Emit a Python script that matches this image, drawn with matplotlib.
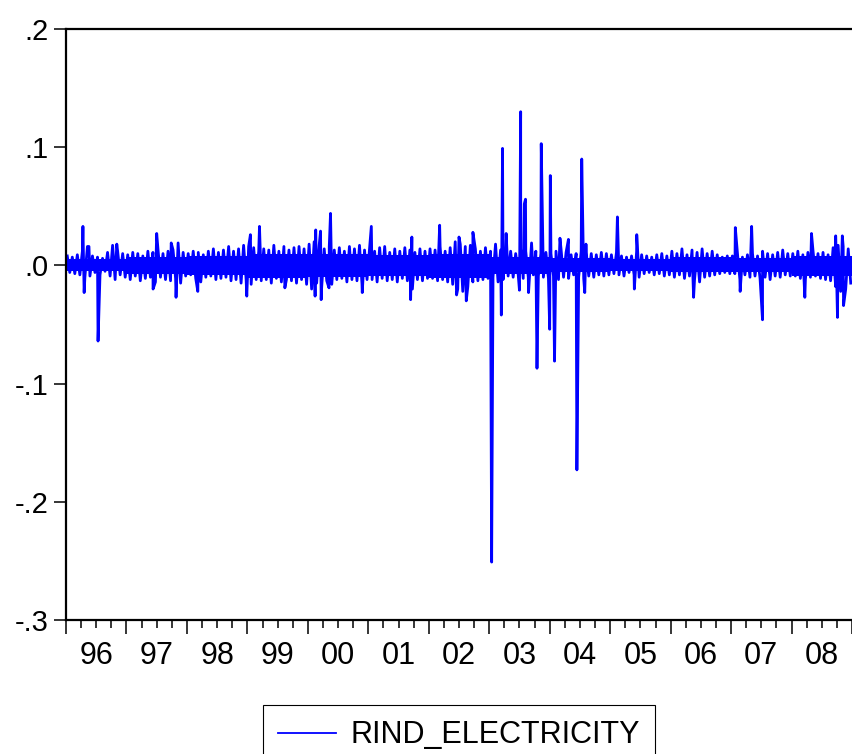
import numpy as np
import matplotlib
matplotlib.use('Agg')
import matplotlib.pyplot as plt
from matplotlib.ticker import FuncFormatter

plt.rcParams['font.family'] = ['Liberation Sans', 'DejaVu Sans']

# Daily returns of RIND_ELECTRICITY, 1996-2008, summarised:
# typical upper / lower swing in each month (Jan 1996 .. Dec 2008) ...
band_hi = [
    0.008, 0.007, 0.009, 0.012, 0.016, 0.008, 0.007, 0.006, 0.011, 0.017, 0.012, 0.010,  # 96
    0.009, 0.011, 0.010, 0.008, 0.012, 0.011, 0.014, 0.010, 0.012, 0.013, 0.019, 0.011,  # 97
    0.010, 0.012, 0.011, 0.009, 0.012, 0.014, 0.011, 0.013, 0.015, 0.012, 0.014, 0.017,  # 98
    0.016, 0.015, 0.012, 0.014, 0.013, 0.017, 0.012, 0.016, 0.013, 0.015, 0.016, 0.014,  # 99
    0.018, 0.020, 0.017, 0.014, 0.016, 0.013, 0.015, 0.012, 0.016, 0.014, 0.017, 0.013,  # 00
    0.014, 0.012, 0.015, 0.016, 0.011, 0.014, 0.012, 0.015, 0.013, 0.011, 0.014, 0.012,  # 01
    0.014, 0.013, 0.016, 0.012, 0.015, 0.020, 0.018, 0.016, 0.017, 0.014, 0.012, 0.015,  # 02
    0.012, 0.018, 0.013, 0.011, 0.012, 0.010, 0.014, 0.012, 0.009, 0.012, 0.010, 0.011,  # 03
    0.010, 0.012, 0.014, 0.011, 0.009, 0.010, 0.012, 0.011, 0.010, 0.009, 0.011, 0.010,  # 04
    0.009, 0.011, 0.008, 0.007, 0.008, 0.012, 0.009, 0.008, 0.007, 0.009, 0.010, 0.008,  # 05
    0.012, 0.010, 0.014, 0.009, 0.013, 0.011, 0.014, 0.010, 0.012, 0.009, 0.007, 0.008,  # 06
    0.008, 0.011, 0.007, 0.009, 0.010, 0.008, 0.012, 0.010, 0.009, 0.011, 0.013, 0.010,  # 07
    0.010, 0.012, 0.009, 0.011, 0.013, 0.010, 0.011, 0.009, 0.015, 0.017, 0.016, 0.014,  # 08
]
band_lo = [
    -0.006, -0.007, -0.008, -0.010, -0.009, -0.006, -0.008, -0.005, -0.009, -0.012, -0.008, -0.010,
    -0.012, -0.009, -0.013, -0.011, -0.010, -0.014, -0.010, -0.012, -0.013, -0.011, -0.015, -0.009,
    -0.008, -0.011, -0.014, -0.010, -0.009, -0.012, -0.011, -0.010, -0.013, -0.012, -0.015, -0.012,
    -0.016, -0.012, -0.013, -0.012, -0.015, -0.011, -0.014, -0.012, -0.013, -0.015, -0.012, -0.016,
    -0.020, -0.015, -0.018, -0.013, -0.016, -0.012, -0.011, -0.014, -0.012, -0.013, -0.016, -0.012,
    -0.012, -0.014, -0.011, -0.013, -0.012, -0.014, -0.011, -0.013, -0.020, -0.012, -0.013, -0.011,
    -0.011, -0.013, -0.012, -0.014, -0.016, -0.020, -0.022, -0.018, -0.014, -0.013, -0.012, -0.011,
    -0.010, -0.014, -0.012, -0.009, -0.010, -0.008, -0.011, -0.010, -0.008, -0.009, -0.010, -0.011,
    -0.009, -0.012, -0.010, -0.011, -0.008, -0.010, -0.011, -0.009, -0.010, -0.008, -0.009, -0.008,
    -0.007, -0.008, -0.009, -0.006, -0.008, -0.010, -0.007, -0.006, -0.008, -0.007, -0.009, -0.008,
    -0.010, -0.008, -0.011, -0.009, -0.012, -0.014, -0.010, -0.009, -0.008, -0.007, -0.006, -0.007,
    -0.007, -0.012, -0.008, -0.010, -0.009, -0.011, -0.010, -0.012, -0.009, -0.010, -0.008, -0.009,
    -0.009, -0.011, -0.012, -0.010, -0.009, -0.011, -0.012, -0.013, -0.018, -0.022, -0.020, -0.015,
]

# the solid core of the band, per year
core_hi = [0.005, 0.007, 0.008, 0.010, 0.010, 0.009, 0.010, 0.007, 0.006, 0.005, 0.007, 0.006, 0.008]
core_lo = [-0.005, -0.007, -0.008, -0.011, -0.010, -0.009, -0.011, -0.007, -0.006, -0.005, -0.006, -0.006, -0.009]

# ... plus the single days that stick out of the band (date as decimal year, return)
spike_t = [1996.28, 1996.30, 1996.38, 1996.53, 1996.84,
           1997.44, 1997.50, 1997.74, 1997.82,
           1998.18, 1998.69, 1998.99, 1999.05, 1999.20, 1999.62,
           2000.12, 2000.13, 2000.21, 2000.22, 2000.35, 2000.375, 2000.90,
           2001.05, 2001.70, 2001.72, 2002.18,
           2002.46, 2002.50, 2002.62, 2002.73,
           2003.04, 2003.20, 2003.22, 2003.28, 2003.50, 2003.52, 2003.58, 2003.60,
           2003.65, 2003.70, 2003.79, 2003.86, 2004.00, 2004.01, 2004.08, 2004.17,
           2004.31, 2004.45, 2004.53, 2004.58, 2004.60,
           2005.12, 2005.40, 2005.44, 2006.38,
           2007.07, 2007.15, 2007.34, 2007.52,
           2008.22, 2008.33, 2008.73, 2008.76, 2008.84, 2008.86]
spike_v = [0.033, -0.023, 0.016, -0.064, 0.018,
           -0.020, 0.027, 0.019, -0.027,
           -0.022, 0.016, -0.026, 0.026, 0.033, -0.019,
           -0.026, 0.030, 0.029, -0.029, -0.019, 0.044, -0.023,
           0.033, -0.029, 0.024, 0.034,
           -0.025, 0.024, -0.030, 0.028,
           -0.251, -0.042, 0.099, 0.027, -0.021, 0.130, 0.052, 0.056,
           -0.023, 0.019, -0.087, 0.103, -0.054, 0.076, -0.081, 0.023,
           0.022, -0.173, 0.090, -0.023, 0.018,
           0.041, -0.020, 0.026, -0.027,
           0.032, -0.022, 0.033, -0.046,
           -0.027, 0.027, 0.025, -0.044, 0.025, -0.034]

years = list(range(1996, 2009))
y_ticks = [-0.3, -0.2, -0.1, 0.0, 0.1, 0.2]
y_labels = ['-.3', '-.2', '-.1', '.0', '.1', '.2']

# put each month's high a quarter into the month and its low three quarters in
n = len(band_hi)
t_hi = [1996 + (m + 0.25) / 12 for m in range(n)]
t_lo = [1996 + (m + 0.75) / 12 for m in range(n)]
t = np.concatenate([t_hi, t_lo, spike_t])
v = np.concatenate([band_hi, band_lo, spike_v])
order = np.argsort(t, kind='stable')

fig = plt.figure(figsize=(8.52, 7.54), dpi=100)
ax = fig.add_axes([66 / 852, 134 / 754, 786 / 852, 591 / 754])

blue = '#0000ff'
ax.bar(years, np.array(core_hi) - np.array(core_lo), bottom=core_lo,
       width=1, align='edge', color=blue, linewidth=0)
line, = ax.plot(t[order], v[order], color=blue, lw=2.0)

ax.set_xlim(1996, 2009)
ax.set_ylim(-0.3, 0.2)

for side in ['left', 'top', 'bottom']:
    ax.spines[side].set_linewidth(1.6)
ax.spines['right'].set_visible(False)

# year boundaries get long ticks, quarters short ones, labels sit mid-year
ax.set_xticks(years + [2009])
ax.set_xticklabels([])
quarters = [y + q for y in years for q in (0.25, 0.5, 0.75)]
ax.set_xticks(quarters, minor=True)
ax.xaxis.set_minor_formatter(FuncFormatter(
    lambda x, pos: '%02d' % (int(x) % 100) if abs(x - int(x) - 0.5) < 1e-6 else ''))
ax.tick_params(axis='x', which='major', length=10, width=1.1, direction='out')
ax.tick_params(axis='x', which='minor', length=5.8, width=1.1, direction='out',
               pad=9, labelsize=22)

ax.set_yticks(y_ticks)
ax.set_yticklabels(y_labels)
ax.tick_params(axis='y', length=8.6, width=1.1, pad=4, labelsize=21)

leg = fig.legend([line], ['RIND_ELECTRICITY'], loc='upper center',
                 bbox_to_anchor=(459 / 852, 49 / 754), fontsize=22,
                 frameon=True, fancybox=False, edgecolor='black',
                 handlelength=1.9, handletextpad=0.45, borderpad=0.5,
                 borderaxespad=0)
leg.get_frame().set_linewidth(0.8)
leg.get_frame().set_alpha(1)
leg.get_lines()[0].set_linewidth(1.3)

fig.savefig('out.png', dpi=100)
